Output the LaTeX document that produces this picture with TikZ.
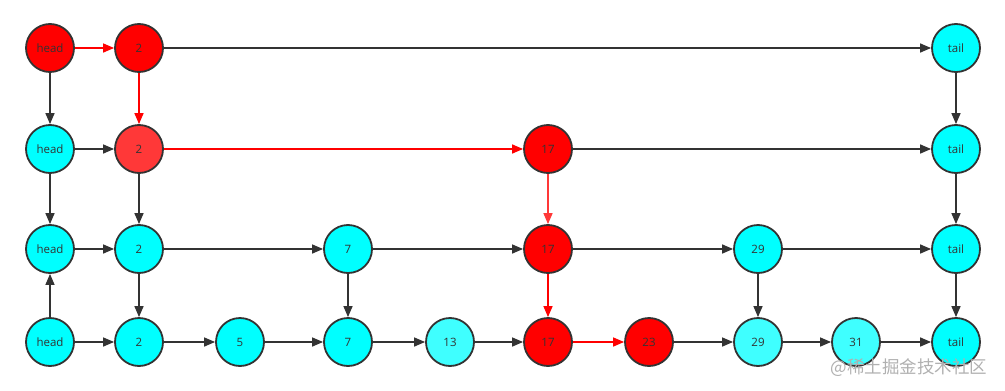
\documentclass[tikz,border=0pt]{standalone}
\usepackage{fontspec}
\setmainfont{Open Sans}
\newfontfamily\cjk{Noto Sans CJK SC}
\usetikzlibrary{arrows.meta}
\definecolor{cy}{HTML}{00FFFF}
\definecolor{lcy}{HTML}{3FFFFF}
\definecolor{rd}{HTML}{FF0000}
\definecolor{lrd}{HTML}{FF3838}
\definecolor{edge}{HTML}{333333}
\definecolor{wm}{HTML}{B0B0B0}
\begin{document}
\begin{tikzpicture}[x=1pt,y=-1pt,
  nd/.style={circle,draw=edge,line width=1.8pt,minimum size=48pt,inner sep=0pt,font=\fontsize{11.5}{13}\selectfont,text=edge},
  cnode/.style={nd,fill=cy},
  lcnode/.style={nd,fill=lcy},
  rnode/.style={nd,fill=rd},
  lrnode/.style={nd,fill=lrd},
  link/.style={draw=edge,line width=1.5pt,-{Triangle[length=11pt,width=9pt]}},
  rlink/.style={draw=rd,line width=1.5pt,-{Triangle[length=11pt,width=9pt]}},
  lrlink/.style={draw=lrd,line width=1.5pt,-{Triangle[length=11pt,width=9pt]}}]
\useasboundingbox (0,0) rectangle (1005,391);
% row 0
\node[rnode] (h0) at (50,48) {head};
\node[rnode] (a0) at (139,48) {2};
\node[cnode] (t0) at (956,48) {tail};
% row 1
\node[cnode] (h1) at (50,149) {head};
\node[lrnode] (a1) at (139,149) {2};
\node[rnode] (q1) at (548,149) {17};
\node[cnode] (t1) at (956,149) {tail};
% row 2
\node[cnode] (h2) at (50,249) {head};
\node[cnode] (a2) at (139,249) {2};
\node[cnode] (s2) at (348,249) {7};
\node[rnode] (q2) at (548,249) {17};
\node[cnode] (n2) at (758,249) {29};
\node[cnode] (t2) at (956,249) {tail};
% row 3
\node[cnode] (h3) at (50,342) {head};
\node[cnode] (a3) at (139,342) {2};
\node[cnode] (f3) at (240,342) {5};
\node[cnode] (s3) at (348,342) {7};
\node[lcnode] (m3) at (450,342) {13};
\node[rnode] (q3) at (548,342) {17};
\node[rnode] (w3) at (649,342) {23};
\node[lcnode] (n3) at (758,342) {29};
\node[lcnode] (o3) at (856,342) {31};
\node[cnode] (t3) at (956,342) {tail};
% horizontal
\draw[rlink] (h0) -- (a0);
\draw[link] (a0) -- (t0);
\draw[link] (h1) -- (a1);
\draw[rlink] (a1) -- (q1);
\draw[link] (q1) -- (t1);
\draw[link] (h2) -- (a2);
\draw[link] (a2) -- (s2);
\draw[link] (s2) -- (q2);
\draw[link] (q2) -- (n2);
\draw[link] (n2) -- (t2);
\draw[link] (h3) -- (a3);
\draw[link] (a3) -- (f3);
\draw[link] (f3) -- (s3);
\draw[link] (s3) -- (m3);
\draw[link] (m3) -- (q3);
\draw[rlink] (q3) -- (w3);
\draw[link] (w3) -- (n3);
\draw[link] (n3) -- (o3);
\draw[link] (o3) -- (t3);
% vertical
\draw[link] (h0) -- (h1);
\draw[rlink] (a0) -- (a1);
\draw[link] (t0) -- (t1);
\draw[link] (h1) -- (h2);
\draw[link] (a1) -- (a2);
\draw[lrlink] (q1) -- (q2);
\draw[link] (t1) -- (t2);
\draw[link] (h3) -- (h2);
\draw[link] (a2) -- (a3);
\draw[link] (s2) -- (s3);
\draw[rlink] (q2) -- (q3);
\draw[link] (n2) -- (n3);
\draw[link] (t2) -- (t3);
% watermark
\node[text=wm,font=\cjk\fontsize{17.5}{19}\selectfont,anchor=center,inner sep=0pt] (wmk) at (909,368) {@稀土掘金技术社区};
\end{tikzpicture}
\end{document}
